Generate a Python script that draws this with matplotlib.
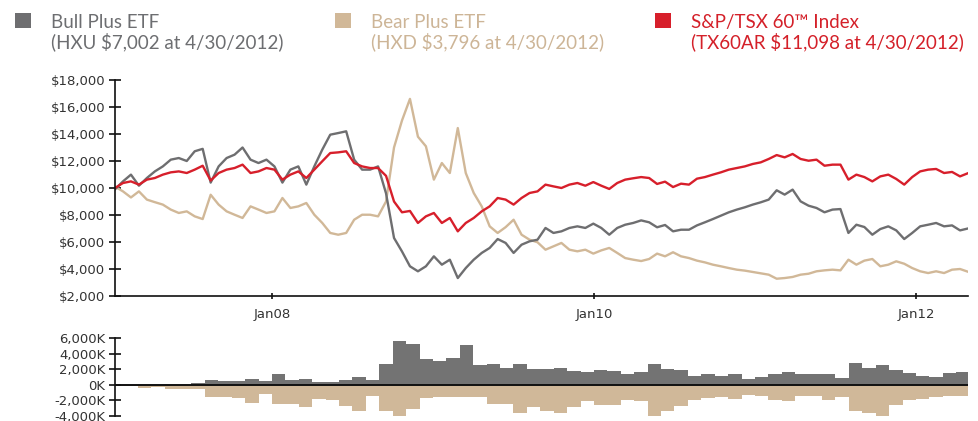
import numpy as np
import matplotlib
matplotlib.use("Agg")
import matplotlib.pyplot as plt
from matplotlib.patches import Rectangle
from matplotlib.ticker import FuncFormatter, FixedLocator

# ---------------- data ----------------
start_year, end_year = 2007.025, 2012.323

# Growth of $10,000 (values in $ thousands), sampled evenly through the period
bull = [9.9, 10.49, 10.99, 10.17, 10.74, 11.23, 11.6, 12.1, 12.22, 12.0,
        12.72, 12.9, 10.4, 11.6, 12.22, 12.47, 13.0, 12.1, 11.85, 12.1,
        11.6, 10.4, 11.36, 11.6, 10.25, 11.6, 12.84, 13.95, 14.07, 14.2,
        12.1, 11.36, 11.36, 11.6,
        9.6, 6.3, 5.3, 4.2, 3.83, 4.2, 4.94, 4.32, 4.69, 3.33,
        4.07, 4.69, 5.19, 5.56, 6.22, 5.93, 5.19, 5.8, 6.05, 6.17,
        7.04, 6.67, 6.79, 7.04, 7.16, 7.04, 7.36, 7.04, 6.54, 7.04,
        7.28, 7.41, 7.6, 7.46, 7.09, 7.26, 6.79,
        6.91, 6.91, 7.23, 7.46, 7.7, 7.95, 8.2, 8.4, 8.57, 8.77,
        8.94, 9.14, 9.83, 9.51, 9.88, 9.01, 8.69, 8.52, 8.2, 8.4,
        8.44, 6.67, 7.28, 7.11, 6.54, 6.96, 7.16, 6.86, 6.22, 6.67,
        7.16, 7.28, 7.41, 7.16, 7.23, 6.86, 7.002]

index = [10.0, 10.37, 10.49, 10.25, 10.62, 10.74, 10.99, 11.16, 11.23, 11.11,
         11.36, 11.65, 10.55, 11.11, 11.36, 11.48, 11.73, 11.11, 11.23, 11.48,
         11.36, 10.62, 10.99, 11.23, 10.74, 11.36, 11.98, 12.59, 12.64, 12.72,
         11.85, 11.6, 11.48, 11.48,
         10.9, 9.0, 8.2, 8.3, 7.41, 7.9, 8.15, 7.41, 7.78, 6.79,
         7.41, 7.78, 8.27, 8.64, 9.26, 9.14, 8.77, 9.26, 9.63, 9.75,
         10.25, 10.12, 10.0, 10.25, 10.37, 10.17, 10.44, 10.17, 9.93, 10.37,
         10.62, 10.72, 10.81, 10.74, 10.3, 10.47, 10.07,
         10.32, 10.25, 10.69, 10.81, 10.99, 11.16, 11.36, 11.48, 11.6, 11.78,
         11.9, 12.15, 12.44, 12.27, 12.52, 12.15, 12.02, 12.1, 11.65, 11.73,
         11.73, 10.62, 10.99, 10.81, 10.49, 10.86, 10.99, 10.67, 10.25, 10.81,
         11.23, 11.36, 11.41, 11.11, 11.19, 10.86, 11.098]

bear = [10.1, 9.75, 9.3, 9.75, 9.14, 8.95, 8.77, 8.4, 8.15, 8.27,
        7.9, 7.7, 9.5, 8.77, 8.27, 8.02, 7.78, 8.64, 8.4, 8.15,
        8.27, 9.26, 8.52, 8.64, 8.89, 8.02, 7.41, 6.67, 6.54, 6.67,
        7.65, 8.02, 8.02, 7.9,
        9.0, 13.0, 15.0, 16.6, 13.8, 13.09, 10.62, 11.85, 11.11, 14.44,
        11.11, 9.63, 8.64, 7.16, 6.67, 7.1, 7.65, 6.54, 6.17, 5.98,
        5.43, 5.68, 5.93, 5.43, 5.31, 5.43, 5.14, 5.38, 5.56, 5.19,
        4.81, 4.69, 4.59, 4.74, 5.14, 4.94, 5.24,
        4.94, 4.81, 4.62, 4.49, 4.32, 4.2, 4.07, 3.95, 3.88, 3.78,
        3.68, 3.58, 3.28, 3.33, 3.41, 3.58, 3.65, 3.83, 3.9, 3.95,
        3.9, 4.69, 4.32, 4.62, 4.74, 4.2, 4.32, 4.57, 4.39, 4.07,
        3.83, 3.7, 3.83, 3.7, 3.95, 4.0, 3.796]

# Monthly net assets (thousands), Jan 2007 .. Apr 2012
bull_assets = [20, 20, 20, 20, 20, 20, 170, 560, 430, 430, 700, 430,
               1350, 560, 700, 300, 300, 560, 960, 560, 2650, 5650, 5260, 3300,
               3040, 3430, 5130, 2520, 2650, 2130, 2650, 2000, 2000, 2130, 1740, 1610,
               1870, 1740, 1350, 1610, 2650, 2000, 1870, 1090, 1350, 1090, 1350, 700,
               960, 1350, 1610, 1350, 1350, 1350, 830, 2780, 2130, 2520, 1870, 1480,
               1090, 960, 1480, 1610]
bear_assets = [-100, -100, -430, -300, -560, -560, -560, -1520, -1520, -1740, -2390, -1220,
               -2520, -2520, -2910, -1870, -2000, -2700, -3300, -1390, -3300, -3960, -3040, -1740,
               -1610, -1610, -1610, -1520, -2520, -2520, -3570, -2830, -3300, -3570, -2910, -2130,
               -2650, -2650, -2000, -2130, -4090, -3300, -2780, -2000, -1740, -1610, -1870, -1350,
               -1480, -2000, -2130, -1480, -1480, -2000, -1610, -3300, -3570, -3960, -2650, -2000,
               -1870, -1610, -1480, -1480]

xtick_years = [2008, 2010, 2012]
xtick_labels = ["Jan08", "Jan10", "Jan12"]

legend_names = ["Bull Plus ETF", "Bear Plus ETF", "S&P/TSX 60\u2122 Index"]
legend_notes = ["(HXU $7,002 at 4/30/2012)", "(HXD $3,796 at 4/30/2012)",
                "(TX60AR $11,098 at 4/30/2012)"]

# ---------------- style ----------------
GRAY = "#6e6e70"
TAN = "#d1b898"
RED = "#d71f2b"
BAR_GRAY = "#737373"
BAR_TAN = "#d0b899"
TICK_FS = 9.5

W, H = 979, 421
fig = plt.figure(figsize=(W / 100, H / 100), dpi=100)

dates = np.linspace(start_year, end_year, len(bull))
months = 2007 + np.arange(len(bull_assets)) / 12.0

# ---- main line chart ----
ax = fig.add_axes([115 / W, 1 - 296 / H, (968 - 115) / W, (296 - 80) / H])
ax.plot(dates, np.array(bear) * 1000, color=TAN, lw=1.7, solid_joinstyle="round")
ax.plot(dates, np.array(bull) * 1000, color=GRAY, lw=1.7, solid_joinstyle="round")
ax.plot(dates, np.array(index) * 1000, color=RED, lw=1.7, solid_joinstyle="round")
ax.set_xlim(start_year, end_year)
ax.set_ylim(2000, 18000)
ax.yaxis.set_major_locator(FixedLocator(np.arange(2000, 18001, 2000)))
ax.yaxis.set_major_formatter(FuncFormatter(lambda v, p: f"${v:,.0f}"))
ax.set_xticks(xtick_years)
ax.set_xticklabels(xtick_labels)
for s in ["top", "right"]:
    ax.spines[s].set_visible(False)
for s in ["left", "bottom"]:
    ax.spines[s].set_linewidth(1.2)
    ax.spines[s].set_color("#111111")
ax.tick_params(axis="y", direction="inout", length=8, width=1.2, pad=3,
               labelsize=TICK_FS, colors="#111111", labelcolor="#333333")
ax.tick_params(axis="x", direction="inout", length=5, width=1.2, pad=6,
               labelsize=TICK_FS, colors="#111111", labelcolor="#333333")

# ---- bottom asset bars ----
ax2 = fig.add_axes([115 / W, 1 - 416 / H, (968 - 115) / W, (416 - 338) / H])
ax2.bar(months, bull_assets, width=1 / 12.0, align="edge", color=BAR_GRAY, linewidth=0)
ax2.bar(months, bear_assets, width=1 / 12.0, align="edge", color=BAR_TAN, linewidth=0)
ax2.axhline(0, color="#111111", lw=1.4)
ax2.set_xlim(start_year, end_year)
ax2.set_ylim(-4000, 6000)
ax2.yaxis.set_major_locator(FixedLocator(np.arange(-4000, 6001, 2000)))
ax2.yaxis.set_major_formatter(FuncFormatter(lambda v, p: f"{v:,.0f}K"))
ax2.set_xticks([])
for s in ["top", "right", "bottom"]:
    ax2.spines[s].set_visible(False)
ax2.spines["left"].set_linewidth(1.2)
ax2.spines["left"].set_color("#111111")
ax2.tick_params(axis="y", direction="inout", length=8, width=1.2, pad=3,
                labelsize=TICK_FS, colors="#111111", labelcolor="#333333")

# ---- legend (top) ----
legend_colors = [GRAY, TAN, RED]
text_colors = ["#6d6e71", "#cdb597", "#d42029"]
sq_x = [15, 335, 655]
tx_x = [51, 371, 691]
for i in range(3):
    fig.add_artist(Rectangle((sq_x[i] / W, 1 - 28 / H), 16 / W, 15 / H,
                             transform=fig.transFigure, color=legend_colors[i], lw=0))
    fig.text(tx_x[i] / W, 1 - 28 / H, legend_names[i], color=text_colors[i],
             fontsize=13.5, family=["Lato", "DejaVu Sans"], va="baseline", ha="left")
    fig.text(tx_x[i] / W, 1 - 48.5 / H, legend_notes[i], color=text_colors[i],
             fontsize=13.5, family=["Lato", "DejaVu Sans"], va="baseline", ha="left")

fig.savefig("out.png", dpi=100)
